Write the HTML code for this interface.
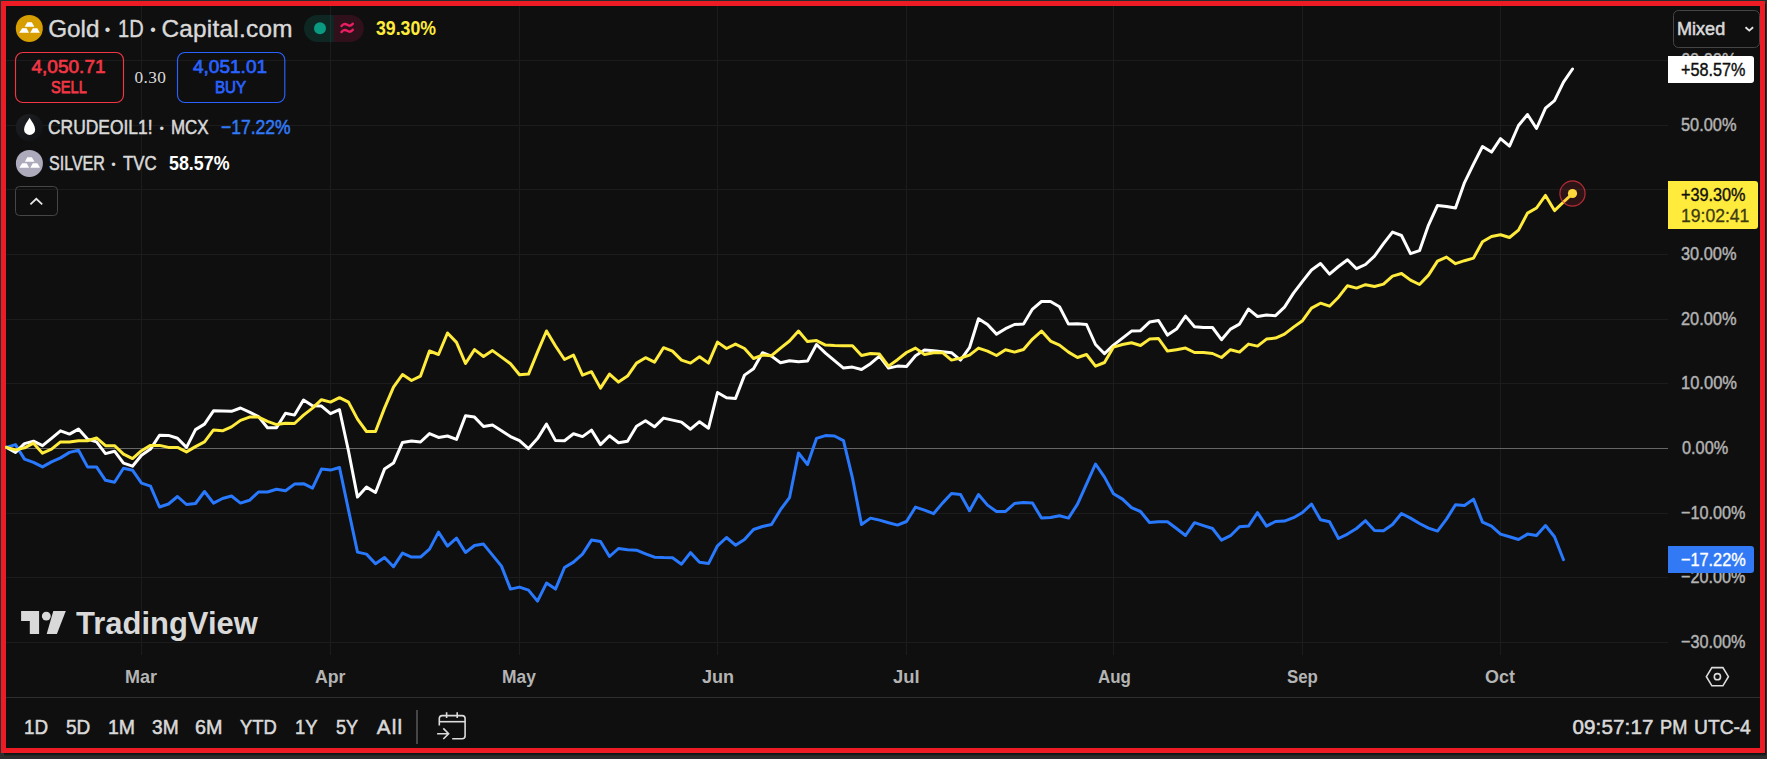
<!DOCTYPE html>
<html lang="en"><head><meta charset="utf-8"><title>Gold · 1D · Capital.com — TradingView</title>
<style>
html,body{margin:0;padding:0;background:#2d2d2d;}
body{width:1767px;height:759px;position:relative;overflow:hidden;font-family:"Liberation Sans",sans-serif;}
.abs{position:absolute;}
.t{position:absolute;white-space:nowrap;line-height:1;margin:0;padding:0;transform-origin:0 0;}
.sans{font-family:"Liberation Sans",sans-serif;}
.serif{font-family:"Liberation Serif",serif;}
#frame{left:1px;top:1px;width:1764px;height:752px;background:#ed1c24;}
#inner{left:6px;top:6px;width:1754px;height:742px;background:#0f0f0f;overflow:hidden;}
#outl{left:0;top:0;width:1766px;height:754px;background:#232f31;}
#shb{left:4px;top:753px;width:1762px;height:3px;background:linear-gradient(#0a1212,#1a1c1c 60%,#2b2b2b);}
#shr{left:1765px;top:4px;width:1px;height:751px;background:#0e1616;}
svg{position:absolute;left:0;top:0;}
</style></head><body>
<div class="abs" id="outl"></div>
<div class="abs" id="shb"></div>
<div class="abs" id="shr"></div>
<div class="abs" id="frame"></div>
<div class="abs" id="inner"></div>

<svg width="1767" height="759" viewBox="0 0 1767 759">
<rect x="6" y="60" width="1662" height="1" fill="#1c1c1c"/>
<rect x="6" y="125" width="1662" height="1" fill="#1c1c1c"/>
<rect x="6" y="189" width="1662" height="1" fill="#1c1c1c"/>
<rect x="6" y="254" width="1662" height="1" fill="#1c1c1c"/>
<rect x="6" y="319" width="1662" height="1" fill="#1c1c1c"/>
<rect x="6" y="383" width="1662" height="1" fill="#1c1c1c"/>
<rect x="6" y="513" width="1662" height="1" fill="#1c1c1c"/>
<rect x="6" y="577" width="1662" height="1" fill="#1c1c1c"/>
<rect x="6" y="642" width="1662" height="1" fill="#1c1c1c"/>
<rect x="141" y="6" width="1" height="649" fill="#1c1c1c"/>
<rect x="330" y="6" width="1" height="649" fill="#1c1c1c"/>
<rect x="519" y="6" width="1" height="649" fill="#1c1c1c"/>
<rect x="717" y="6" width="1" height="649" fill="#1c1c1c"/>
<rect x="906" y="6" width="1" height="649" fill="#1c1c1c"/>
<rect x="1113" y="6" width="1" height="649" fill="#1c1c1c"/>
<rect x="1302" y="6" width="1" height="649" fill="#1c1c1c"/>
<rect x="1500" y="6" width="1" height="649" fill="#1c1c1c"/>
<rect x="6" y="448" width="1662" height="1" fill="#666666"/>
<rect x="6" y="697" width="1754" height="1" fill="#2e2e2e"/>
<polyline fill="none" stroke="#2979ff" stroke-width="3.0" stroke-linejoin="round" stroke-linecap="round" points="6.5,447.4 15.5,444.6 24.5,459.1 33.5,462.4 42.5,466.9 51.5,461.9 60.5,457.9 69.5,452.4 78.5,450.2 87.5,466.9 96.5,466.9 105.5,480.3 114.5,482.3 123.5,468.2 132.5,470.2 141.5,483.2 150.5,486.2 159.5,507.0 168.5,504.0 177.5,496.5 186.5,504.5 195.5,503.5 204.5,491.5 213.5,503.1 222.5,498.5 231.5,496.0 240.5,503.1 249.5,500.3 258.5,492.0 267.5,492.0 276.5,489.3 285.5,490.7 294.5,484.1 303.5,483.7 312.5,488.1 321.5,469.1 330.5,470.1 339.5,467.5 348.5,510.1 357.5,552.1 366.5,554.1 375.5,563.7 384.5,557.5 393.5,566.7 402.5,553.1 411.5,557.1 420.5,557.1 429.5,549.1 438.5,532.1 447.5,546.1 456.5,538.1 465.5,552.5 474.5,545.5 483.5,544.1 492.5,555.1 501.5,566.1 510.5,589.1 519.5,587.1 528.5,590.1 537.5,601.1 546.5,583.1 555.5,589.1 564.5,567.5 573.5,562.1 582.5,554.1 591.5,540.1 600.5,541.5 609.5,556.5 618.5,548.5 627.5,549.7 636.5,550.2 645.5,553.8 654.5,557.2 663.5,557.6 672.5,557.8 681.5,564.2 690.5,552.6 699.5,562.2 708.5,563.6 717.5,545.8 726.5,537.5 735.5,545.2 744.5,539.5 753.5,529.5 762.5,526.5 771.5,524.5 780.5,509.7 789.5,497.7 798.5,453.0 807.5,464.5 816.5,438.4 825.5,435.6 834.5,436.0 843.5,440.6 852.5,478.1 861.5,524.5 870.5,518.1 879.5,520.1 888.5,522.7 897.5,525.1 906.5,521.5 915.5,507.1 924.5,510.1 933.5,513.7 942.5,503.1 951.5,493.5 960.5,494.5 969.5,510.7 978.5,494.5 987.5,505.1 996.5,511.5 1005.5,511.5 1014.5,503.5 1023.5,502.5 1032.5,503.1 1041.5,518.1 1050.5,517.5 1059.5,515.7 1068.5,518.1 1077.5,504.1 1086.5,484.1 1095.5,464.0 1104.5,477.1 1113.5,493.7 1122.5,499.1 1131.5,507.7 1140.5,511.5 1149.5,522.5 1158.5,521.7 1167.5,521.7 1176.5,528.5 1185.5,535.5 1194.5,522.7 1203.5,525.7 1212.5,528.5 1221.5,540.1 1230.5,535.7 1239.5,526.7 1248.5,526.1 1257.5,512.7 1266.5,526.1 1275.5,521.5 1284.5,521.1 1293.5,517.7 1302.5,512.5 1311.5,504.1 1320.5,519.7 1329.5,521.7 1338.5,538.5 1347.5,534.1 1356.5,528.5 1365.5,520.7 1374.5,530.5 1383.5,530.7 1392.5,524.5 1401.5,513.5 1410.5,518.1 1419.5,523.5 1428.5,528.1 1437.5,531.1 1446.5,519.1 1455.5,504.7 1464.5,505.5 1473.5,499.1 1482.5,522.1 1491.5,526.1 1500.5,534.1 1509.5,536.7 1518.5,539.5 1527.5,534.1 1536.5,535.5 1545.5,525.5 1554.5,536.7 1563.5,559.7"/>
<polyline fill="none" stroke="#ffffff" stroke-width="3.0" stroke-linejoin="round" stroke-linecap="round" points="6.5,447.4 15.5,452.4 24.5,443.6 33.5,441.2 42.5,445.7 51.5,438.3 60.5,430.8 69.5,434.1 78.5,429.1 87.5,439.1 96.5,441.9 105.5,453.6 114.5,451.2 123.5,463.2 132.5,466.2 141.5,455.2 150.5,449.1 159.5,435.3 168.5,435.4 177.5,438.3 186.5,447.4 195.5,429.6 204.5,424.1 213.5,410.8 222.5,411.1 231.5,411.3 240.5,408.0 249.5,412.1 258.5,416.6 267.5,427.8 276.5,427.8 285.5,413.3 294.5,415.1 303.5,400.1 312.5,405.7 321.5,406.1 330.5,413.7 339.5,409.7 348.5,451.0 357.5,497.1 366.5,487.1 375.5,492.5 384.5,469.1 393.5,463.1 402.5,442.4 411.5,441.0 420.5,442.0 429.5,433.6 438.5,437.4 447.5,436.0 456.5,439.4 465.5,415.7 474.5,417.1 483.5,426.5 492.5,425.1 501.5,430.7 510.5,436.6 519.5,440.6 528.5,448.6 537.5,438.6 546.5,424.1 555.5,440.6 564.5,440.8 573.5,433.7 582.5,436.6 591.5,430.1 600.5,444.6 609.5,435.8 618.5,442.8 627.5,441.2 636.5,426.2 645.5,420.7 654.5,426.8 663.5,418.1 672.5,420.1 681.5,422.1 690.5,429.2 699.5,421.7 708.5,428.2 717.5,392.5 726.5,397.7 735.5,398.5 744.5,375.1 753.5,368.7 762.5,352.7 771.5,356.1 780.5,362.7 789.5,360.7 798.5,361.7 807.5,361.1 816.5,344.5 825.5,353.1 834.5,360.7 843.5,368.1 852.5,367.1 861.5,369.5 870.5,363.7 879.5,356.1 888.5,368.1 897.5,366.1 906.5,366.5 915.5,355.7 924.5,350.1 933.5,350.7 942.5,351.7 951.5,352.7 960.5,360.1 969.5,347.7 978.5,318.7 987.5,324.5 996.5,334.1 1005.5,328.7 1014.5,324.5 1023.5,324.1 1032.5,309.1 1041.5,301.5 1050.5,301.5 1059.5,306.7 1068.5,324.1 1077.5,323.7 1086.5,324.5 1095.5,344.5 1104.5,353.7 1113.5,345.1 1122.5,338.1 1131.5,331.1 1140.5,330.7 1149.5,322.1 1158.5,320.5 1167.5,335.1 1176.5,329.1 1185.5,316.1 1194.5,326.7 1203.5,327.5 1212.5,327.5 1221.5,339.7 1230.5,329.1 1239.5,324.1 1248.5,309.1 1257.5,316.5 1266.5,315.1 1275.5,315.7 1284.5,307.1 1293.5,293.1 1302.5,281.4 1311.5,270.0 1320.5,263.5 1329.5,274.1 1338.5,266.5 1347.5,259.7 1356.5,268.7 1365.5,264.5 1374.5,256.1 1383.5,243.7 1392.5,232.1 1401.5,235.5 1410.5,253.7 1419.5,250.7 1428.5,225.1 1437.5,205.4 1446.5,206.4 1455.5,208.0 1464.5,182.6 1473.5,164.1 1482.5,146.5 1491.5,152.1 1500.5,138.7 1509.5,146.1 1518.5,125.5 1527.5,114.5 1536.5,128.5 1545.5,108.1 1554.5,100.7 1563.5,82.1 1572.5,69.0"/>
<polyline fill="none" stroke="#ffeb3b" stroke-width="3.0" stroke-linejoin="round" stroke-linecap="round" points="6.5,447.4 15.5,449.9 24.5,447.9 33.5,443.2 42.5,453.2 51.5,449.1 60.5,441.9 69.5,441.9 78.5,440.7 87.5,440.7 96.5,437.9 105.5,445.7 114.5,445.7 123.5,454.1 132.5,458.6 141.5,450.7 150.5,445.4 159.5,445.4 168.5,447.4 177.5,447.4 186.5,451.9 195.5,446.6 204.5,441.9 213.5,429.9 222.5,430.8 231.5,426.9 240.5,420.4 249.5,417.1 258.5,417.1 267.5,421.3 276.5,424.6 285.5,423.3 294.5,423.5 303.5,415.1 312.5,408.1 321.5,399.7 330.5,402.1 339.5,397.7 348.5,402.1 357.5,419.1 366.5,431.5 375.5,431.5 384.5,408.1 393.5,387.1 402.5,374.5 411.5,380.5 420.5,376.1 429.5,351.0 438.5,354.5 447.5,333.0 456.5,342.4 465.5,363.5 474.5,349.6 483.5,356.5 492.5,350.6 501.5,357.1 510.5,363.7 519.5,374.7 528.5,374.1 537.5,352.1 546.5,331.0 555.5,346.0 564.5,359.5 573.5,355.1 582.5,375.1 591.5,371.7 600.5,388.1 609.5,374.1 618.5,382.1 627.5,376.1 636.5,363.1 645.5,357.7 654.5,362.1 663.5,347.7 672.5,351.1 681.5,360.1 690.5,363.1 699.5,356.7 708.5,363.1 717.5,342.1 726.5,348.5 735.5,344.1 744.5,348.5 753.5,358.5 762.5,355.1 771.5,355.7 780.5,348.1 789.5,341.0 798.5,331.0 807.5,341.6 816.5,340.6 825.5,345.1 834.5,345.5 843.5,345.7 852.5,345.7 861.5,355.5 870.5,353.5 879.5,354.1 888.5,366.1 897.5,359.7 906.5,352.5 915.5,348.1 924.5,354.5 933.5,352.7 942.5,352.7 951.5,360.1 960.5,358.1 969.5,355.1 978.5,348.1 987.5,351.1 996.5,355.5 1005.5,349.7 1014.5,352.1 1023.5,349.5 1032.5,339.1 1041.5,331.1 1050.5,341.1 1059.5,345.1 1068.5,352.1 1077.5,357.5 1086.5,354.5 1095.5,366.2 1104.5,362.5 1113.5,347.1 1122.5,344.5 1131.5,342.7 1140.5,345.5 1149.5,339.1 1158.5,338.5 1167.5,351.1 1176.5,349.7 1185.5,348.1 1194.5,352.5 1203.5,352.5 1212.5,353.5 1221.5,357.5 1230.5,349.7 1239.5,352.1 1248.5,344.1 1257.5,346.1 1266.5,339.1 1275.5,338.1 1284.5,334.1 1293.5,327.1 1302.5,320.7 1311.5,308.1 1320.5,303.2 1329.5,306.2 1338.5,297.2 1347.5,285.7 1356.5,288.1 1365.5,284.7 1374.5,286.5 1383.5,284.1 1392.5,276.1 1401.5,273.5 1410.5,280.1 1419.5,284.5 1428.5,275.1 1437.5,261.1 1446.5,257.1 1455.5,263.7 1464.5,260.7 1473.5,258.1 1482.5,241.7 1491.5,236.5 1500.5,234.7 1509.5,237.5 1518.5,230.1 1527.5,213.1 1536.5,208.0 1545.5,195.4 1554.5,210.6 1563.5,202.0 1572.5,193.6"/>
<circle cx="1572.500" cy="193.500" r="12.600" fill="#f23645" fill-opacity="0.130" stroke="#f23645" stroke-opacity="0.720" stroke-width="1.200"/>
<circle cx="1572.500" cy="193.500" r="4.600" fill="#ffd83a"/>
<g fill="#d9d9d9"><path d="M21.100 611.100h18v22.900h-9.300v-13.100h-8.700z"/><circle cx="46.300" cy="616.100" r="4.450"/><path d="M53.300 611.100h12.500l-8.900 22.900h-10.200z"/></g>
<g fill="none" stroke="#dcdcdc" stroke-width="1.600"><path d="M1706.400 676.700l5.500-9.100h11l5.500 9.100-5.500 9.100h-11z"/><circle cx="1717.400" cy="676.700" r="3.100"/></g>
<rect x="416" y="710" width="2" height="34" fill="#464646"/>
<g fill="none" stroke="#dcdcdc" stroke-width="1.600"><path d="M439.300 725.600v-7a3 3 0 0 1 3-3h19.800a3 3 0 0 1 3 3v17.100a3 3 0 0 1-3 3h-9.900"/><path d="M439.300 721.700h25.800"/><path d="M446.600 712.200v5.700M457.200 712.200v5.700"/><path d="M437.100 733.700h11M443.300 728.400l5.300 5.300-5.300 5.300"/></g>
<circle cx="29.300" cy="28.400" r="13.500" fill="#d69e00"/>
<g fill="#ffffff"><path d="M27.300 22.300h4.500l2.600 4.500h-9.700z"/><path d="M22.100 28.300h4.500l2.400 4.500h-9.750z"/><path d="M32.800 28.300h4.500l2.600 4.500h-9.700z"/></g>
<defs><linearGradient id="og" x1="0" y1="0" x2="1" y2="1"><stop offset="0" stop-color="#1e2024"/><stop offset="1" stop-color="#0e1012"/></linearGradient></defs><circle cx="29.400" cy="127.400" r="13.500" fill="url(#og)"/>
<path d="M29.600 117.700c2.300 3.900 5.550 7.800 5.550 11.700a5.550 5.550 0 0 1-11.100 0c0-3.900 3.250-7.800 5.550-11.700z" fill="#ffffff"/>
<circle cx="29.400" cy="163.400" r="13.500" fill="#adaabc"/>
<g fill="#ffffff" transform="translate(0.100,135)"><path d="M27.300 22.300h4.500l2.600 4.500h-9.700z"/><path d="M22.100 28.300h4.500l2.400 4.500h-9.750z"/><path d="M32.800 28.300h4.500l2.600 4.500h-9.700z"/></g>
<path d="M317.500 14.900h16.400v27h-16.400a13.500 13.500 0 0 1 0-27z" fill="#0fa78d" fill-opacity="0.160"/>
<path d="M333.900 14.900h16.400a13.500 13.500 0 0 1 0 27h-16.400z" fill="#e91e63" fill-opacity="0.150"/>
<circle cx="320" cy="28.200" r="6" fill="#0a9981"/>
<g fill="none" stroke="#ea1e63" stroke-width="2.400" stroke-linecap="round"><path d="M341.500 26c1.800-2.400 3.700-2.500 5.700-1.200s3.800 1.500 5.600-1"/><path d="M341.500 32c1.800-2.400 3.700-2.500 5.700-1.200s3.800 1.500 5.600-1"/></g>
<rect x="15.500" y="52.500" width="108" height="50" rx="7.500" fill="none" stroke="#f23645" stroke-width="1.150"/>
<rect x="177.500" y="52.500" width="107.300" height="50" rx="7.500" fill="none" stroke="#2962ff" stroke-width="1.150"/>
<rect x="15.500" y="186.500" width="42" height="29" rx="4" fill="none" stroke="#464646" stroke-width="1"/>
<path d="M30.400 204.300l5.900-5.500 5.900 5.500" fill="none" stroke="#e6e6e6" stroke-width="1.800"/>
<rect x="1673.500" y="10.500" width="86" height="37" rx="5" fill="none" stroke="#454545" stroke-width="1"/>
<path d="M1745.500 27.200l3.800 3.400 3.800-3.400" fill="none" stroke="#e6e6e6" stroke-width="1.900"/>
</svg>
<span class="t sans" style="left:48.19px;top:17.00px;font-size:24.3px;color:#d9d9d9;font-weight:400;letter-spacing:0.009px;-webkit-text-stroke:0.4px;">Gold</span>
<span class="t serif" style="left:103.00px;top:17.00px;font-size:27px;color:#d9d9d9;font-weight:700;">·</span>
<span class="t sans" style="left:117.60px;top:17.00px;font-size:24.3px;color:#d9d9d9;font-weight:400;transform:scaleX(0.8254);-webkit-text-stroke:0.4px;">1D</span>
<span class="t serif" style="left:148.40px;top:17.00px;font-size:27px;color:#d9d9d9;font-weight:700;">·</span>
<span class="t sans" style="left:161.48px;top:17.00px;font-size:24.3px;color:#d9d9d9;font-weight:400;letter-spacing:0.270px;-webkit-text-stroke:0.4px;">Capital.com</span>
<span class="t sans" style="left:376.02px;top:18.00px;font-size:20.3px;color:#ffeb3b;font-weight:700;transform:scaleX(0.8726);">39.30%</span>
<span class="t sans" style="left:31.40px;top:57.00px;font-size:19px;color:#f23645;font-weight:400;letter-spacing:0.029px;-webkit-text-stroke:0.7px;">4,050.71</span>
<span class="t sans" style="left:51.43px;top:79.00px;font-size:17.1px;color:#f23645;font-weight:400;transform:scaleX(0.8552);-webkit-text-stroke:0.75px;">SELL</span>
<span class="t serif" style="left:134.58px;top:69.00px;font-size:17.3px;color:#d9d9d9;font-weight:400;letter-spacing:0.339px;">0.30</span>
<span class="t sans" style="left:192.90px;top:57.00px;font-size:19px;color:#2962ff;font-weight:400;letter-spacing:0.029px;-webkit-text-stroke:0.7px;">4,051.01</span>
<span class="t sans" style="left:214.67px;top:79.00px;font-size:17.1px;color:#2962ff;font-weight:400;transform:scaleX(0.8874);-webkit-text-stroke:0.75px;">BUY</span>
<span class="t sans" style="left:48.42px;top:117.00px;font-size:20.6px;color:#d9d9d9;font-weight:400;transform:scaleX(0.8458);-webkit-text-stroke:0.55px;">CRUDEOIL1!</span>
<span class="t serif" style="left:158.30px;top:118.00px;font-size:21px;color:#d9d9d9;font-weight:700;">·</span>
<span class="t sans" style="left:170.68px;top:117.00px;font-size:20.6px;color:#d9d9d9;font-weight:400;transform:scaleX(0.8222);-webkit-text-stroke:0.55px;">MCX</span>
<span class="t sans" style="left:220.63px;top:117.00px;font-size:20.4px;color:#3179f5;font-weight:400;transform:scaleX(0.8576);-webkit-text-stroke:0.55px;">−17.22%</span>
<span class="t sans" style="left:48.73px;top:153.00px;font-size:20.6px;color:#d9d9d9;font-weight:400;transform:scaleX(0.7789);-webkit-text-stroke:0.55px;">SILVER</span>
<span class="t serif" style="left:110.00px;top:154.00px;font-size:21px;color:#d9d9d9;font-weight:700;">·</span>
<span class="t sans" style="left:123.48px;top:153.00px;font-size:20.6px;color:#d9d9d9;font-weight:400;transform:scaleX(0.8184);-webkit-text-stroke:0.55px;">TVC</span>
<span class="t sans" style="left:169.25px;top:153.00px;font-size:20.4px;color:#ffffff;font-weight:700;transform:scaleX(0.8751);">58.57%</span>
<span class="t sans" style="left:1676.86px;top:20.00px;font-size:18.1px;color:#d9d9d9;font-weight:400;transform:scaleX(0.9984);-webkit-text-stroke:0.55px;">Mixed</span>
<span class="t sans" style="left:1681.22px;top:51.00px;font-size:18.4px;color:#b4b4b4;font-weight:400;transform:scaleX(0.8905);-webkit-text-stroke:0.45px;">60.00%</span>
<span class="t sans" style="left:1681.28px;top:116.00px;font-size:18.4px;color:#b4b4b4;font-weight:400;transform:scaleX(0.8895);-webkit-text-stroke:0.45px;">50.00%</span>
<span class="t sans" style="left:1681.29px;top:245.00px;font-size:18.4px;color:#b4b4b4;font-weight:400;transform:scaleX(0.8894);-webkit-text-stroke:0.45px;">30.00%</span>
<span class="t sans" style="left:1681.30px;top:310.00px;font-size:18.4px;color:#b4b4b4;font-weight:400;transform:scaleX(0.8892);-webkit-text-stroke:0.45px;">20.00%</span>
<span class="t sans" style="left:1680.77px;top:374.00px;font-size:18.4px;color:#b4b4b4;font-weight:400;transform:scaleX(0.8978);-webkit-text-stroke:0.45px;">10.00%</span>
<span class="t sans" style="left:1681.51px;top:439.00px;font-size:18.4px;color:#b4b4b4;font-weight:400;transform:scaleX(0.8851);-webkit-text-stroke:0.45px;">0.00%</span>
<span class="t sans" style="left:1681.30px;top:504.00px;font-size:18.4px;color:#b4b4b4;font-weight:400;transform:scaleX(0.8813);-webkit-text-stroke:0.45px;">−10.00%</span>
<span class="t sans" style="left:1681.30px;top:568.00px;font-size:18.4px;color:#b4b4b4;font-weight:400;transform:scaleX(0.8813);-webkit-text-stroke:0.45px;">−20.00%</span>
<span class="t sans" style="left:1681.30px;top:633.00px;font-size:18.4px;color:#b4b4b4;font-weight:400;transform:scaleX(0.8813);-webkit-text-stroke:0.45px;">−30.00%</span>
<span class="t sans" style="left:124.69px;top:667.00px;font-size:19px;color:#b4b4b4;font-weight:700;transform:scaleX(0.9465);">Mar</span>
<span class="t sans" style="left:314.75px;top:667.00px;font-size:19px;color:#b4b4b4;font-weight:700;transform:scaleX(0.9298);">Apr</span>
<span class="t sans" style="left:501.98px;top:667.00px;font-size:19px;color:#b4b4b4;font-weight:700;transform:scaleX(0.9161);">May</span>
<span class="t sans" style="left:701.55px;top:667.00px;font-size:19px;color:#b4b4b4;font-weight:700;transform:scaleX(0.9490);">Jun</span>
<span class="t sans" style="left:893.24px;top:667.00px;font-size:19px;color:#b4b4b4;font-weight:700;transform:scaleX(0.9703);">Jul</span>
<span class="t sans" style="left:1097.68px;top:667.00px;font-size:19px;color:#b4b4b4;font-weight:700;transform:scaleX(0.8910);">Aug</span>
<span class="t sans" style="left:1287.13px;top:667.00px;font-size:19px;color:#b4b4b4;font-weight:700;transform:scaleX(0.8846);">Sep</span>
<span class="t sans" style="left:1485.16px;top:667.00px;font-size:19px;color:#b4b4b4;font-weight:700;transform:scaleX(0.9429);">Oct</span>
<span class="t sans" style="left:23.82px;top:717.00px;font-size:20.6px;color:#d9d9d9;font-weight:400;transform:scaleX(0.9151);-webkit-text-stroke:0.55px;">1D</span>
<span class="t sans" style="left:65.88px;top:717.00px;font-size:20.6px;color:#d9d9d9;font-weight:400;transform:scaleX(0.9245);-webkit-text-stroke:0.55px;">5D</span>
<span class="t sans" style="left:107.78px;top:717.00px;font-size:20.6px;color:#d9d9d9;font-weight:400;transform:scaleX(0.9454);-webkit-text-stroke:0.55px;">1M</span>
<span class="t sans" style="left:152.36px;top:717.00px;font-size:20.6px;color:#d9d9d9;font-weight:400;transform:scaleX(0.9280);-webkit-text-stroke:0.55px;">3M</span>
<span class="t sans" style="left:195.38px;top:717.00px;font-size:20.6px;color:#d9d9d9;font-weight:400;transform:scaleX(0.9602);-webkit-text-stroke:0.55px;">6M</span>
<span class="t sans" style="left:239.74px;top:717.00px;font-size:20.6px;color:#d9d9d9;font-weight:400;transform:scaleX(0.8929);-webkit-text-stroke:0.55px;">YTD</span>
<span class="t sans" style="left:294.64px;top:717.00px;font-size:20.6px;color:#d9d9d9;font-weight:400;transform:scaleX(0.8941);-webkit-text-stroke:0.55px;">1Y</span>
<span class="t sans" style="left:336.11px;top:717.00px;font-size:20.6px;color:#d9d9d9;font-weight:400;transform:scaleX(0.8796);-webkit-text-stroke:0.55px;">5Y</span>
<span class="t sans" style="left:376.83px;top:717.00px;font-size:20.6px;color:#d9d9d9;font-weight:400;letter-spacing:1.234px;-webkit-text-stroke:0.55px;">All</span>
<span class="t sans" style="left:1572.42px;top:717.00px;font-size:20.6px;color:#d9d9d9;font-weight:400;letter-spacing:0.126px;-webkit-text-stroke:0.55px;">09:57:17</span>
<span class="t sans" style="left:1660.30px;top:717.00px;font-size:20.6px;color:#d9d9d9;font-weight:400;transform:scaleX(0.8828);-webkit-text-stroke:0.55px;">PM</span>
<span class="t sans" style="left:1693.68px;top:717.00px;font-size:20.6px;color:#d9d9d9;font-weight:400;transform:scaleX(0.9358);-webkit-text-stroke:0.55px;">UTC-4</span>
<div class="abs" style="left:1668px;top:56px;width:86px;height:27px;background:#ffffff;border-radius:0 3px 3px 0;"></div>
<div class="abs" style="left:1668px;top:181px;width:90px;height:48px;background:#ffeb3b;border-radius:0 3px 3px 0;"></div>
<div class="abs" style="left:1668px;top:546px;width:86px;height:27px;background:#3179f5;border-radius:0 3px 3px 0;"></div>
<span class="t sans" style="left:1681.34px;top:61.00px;font-size:18.4px;color:#0f0f0f;font-weight:400;transform:scaleX(0.8796);-webkit-text-stroke:0.4px;">+58.57%</span>
<span class="t sans" style="left:1681.14px;top:186.00px;font-size:18.4px;color:#0f0f0f;font-weight:400;transform:scaleX(0.8824);-webkit-text-stroke:0.4px;">+39.30%</span>
<span class="t sans" style="left:1680.96px;top:207.00px;font-size:18.4px;color:#3d3a12;font-weight:400;transform:scaleX(0.9552);-webkit-text-stroke:0.3px;">19:02:41</span>
<span class="t sans" style="left:1680.98px;top:551.00px;font-size:18.4px;color:#ffffff;font-weight:400;transform:scaleX(0.8845);-webkit-text-stroke:0.4px;">−17.22%</span>
<span class="t sans" style="left:76.20px;top:607.00px;font-size:32px;color:#d9d9d9;font-weight:700;transform:scaleX(0.9678);">TradingView</span>
</body></html>
